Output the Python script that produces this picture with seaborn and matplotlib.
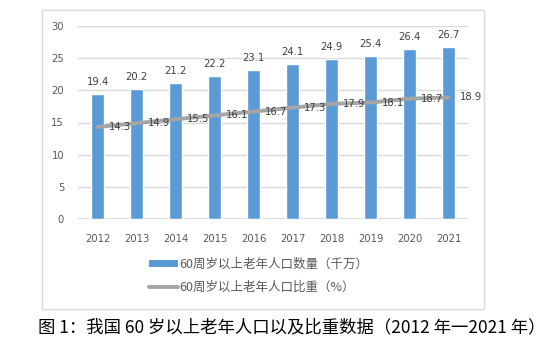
import matplotlib
matplotlib.use("Agg")
import matplotlib.pyplot as plt
import seaborn as sns
import pandas as pd
import numpy as np
from matplotlib.patches import Rectangle, Patch
from matplotlib.lines import Line2D

years = ["2012", "2013", "2014", "2015", "2016", "2017", "2018", "2019", "2020", "2021"]
population = [19.4, 20.2, 21.2, 22.2, 23.1, 24.1, 24.9, 25.4, 26.4, 26.7]
share = [14.3, 14.9, 15.5, 16.1, 16.7, 17.3, 17.9, 18.1, 18.7, 18.9]
label_bar = "60周岁以上老年人口数量（千万）"
label_line = "60周岁以上老年人口比重（%）"
caption = "图 1：我国 60 岁以上老年人口以及比重数据（2012 年一2021 年）"

sns.set_theme(style="white")
plt.rcParams['font.family'] = ['DejaVu Sans', 'Noto Sans CJK SC']
cjk = ['Noto Sans CJK SC', 'DejaVu Sans']

bar_color = "#5B9BD5"
line_color = "#A5A5A5"
text_color = "#595959"
grid_color = "#D9D9D9"

df = pd.DataFrame({"year": years, "pop": population, "share": share})
df["pos"] = np.arange(len(df))

fig = plt.figure(figsize=(5.46, 3.43), dpi=100)
W, H = 546, 343
ax = fig.add_axes([78 / W, 1 - 219 / H, 390 / W, 193 / H])

sns.barplot(data=df, x="year", y="pop", color=bar_color, width=0.31,
            saturation=1, ax=ax, zorder=2)
sns.lineplot(data=df, x="pos", y="share", color=line_color, linewidth=2.8,
             ax=ax, zorder=3)

ax.set_ylim(0, 30)
ax.set_xlim(-0.5, len(years) - 0.5)
ax.set_yticks(range(0, 31, 5))
ax.set_xticks(range(len(years)))
ax.set_xticklabels(years)
ax.set_xlabel("")
ax.set_ylabel("")
for y in range(5, 31, 5):
    ax.axhline(y, color=grid_color, lw=1.0, zorder=0)
ax.axhline(0, color=grid_color, lw=2.0, zorder=1)
for s in ax.spines.values():
    s.set_visible(False)
ax.tick_params(axis="both", length=0, labelsize=7.2, labelcolor=text_color)
ax.tick_params(axis="y", pad=10)
ax.tick_params(axis="x", pad=11)

for i, v in enumerate(population):
    ax.annotate(f"{v}", (i, v), xytext=(0, 5), textcoords="offset points",
                ha="center", va="bottom", fontsize=7.2, color="#404040")
for i, v in enumerate(share):
    ax.annotate(f"{v}", (i, v), xytext=(8, 0), textcoords="offset points",
                ha="left", va="center", fontsize=7.2, color="#404040", zorder=4)

handles = [Patch(facecolor=bar_color, edgecolor="none"),
           Line2D([0], [0], color=line_color, lw=2.8)]
leg = fig.legend(handles, [label_bar, label_line], loc="upper left",
                 bbox_to_anchor=(149 / W, 1 - 258 / H), frameon=False,
                 prop={"family": cjk, "size": 9}, labelcolor=text_color,
                 handlelength=2.3, handleheight=0.55, handletextpad=0.15,
                 labelspacing=0.8, borderaxespad=0, borderpad=0)

fig.patches.append(Rectangle((42 / W, 1 - 309 / H), 442 / W, 299 / H,
                             transform=fig.transFigure, fill=False,
                             edgecolor=grid_color, lw=1.0))

fig.text(38 / W, 1 - 327 / H, caption, ha="left", va="center",
         fontsize=12.5, color="black", family=cjk)

fig.savefig("out.png", dpi=100)
